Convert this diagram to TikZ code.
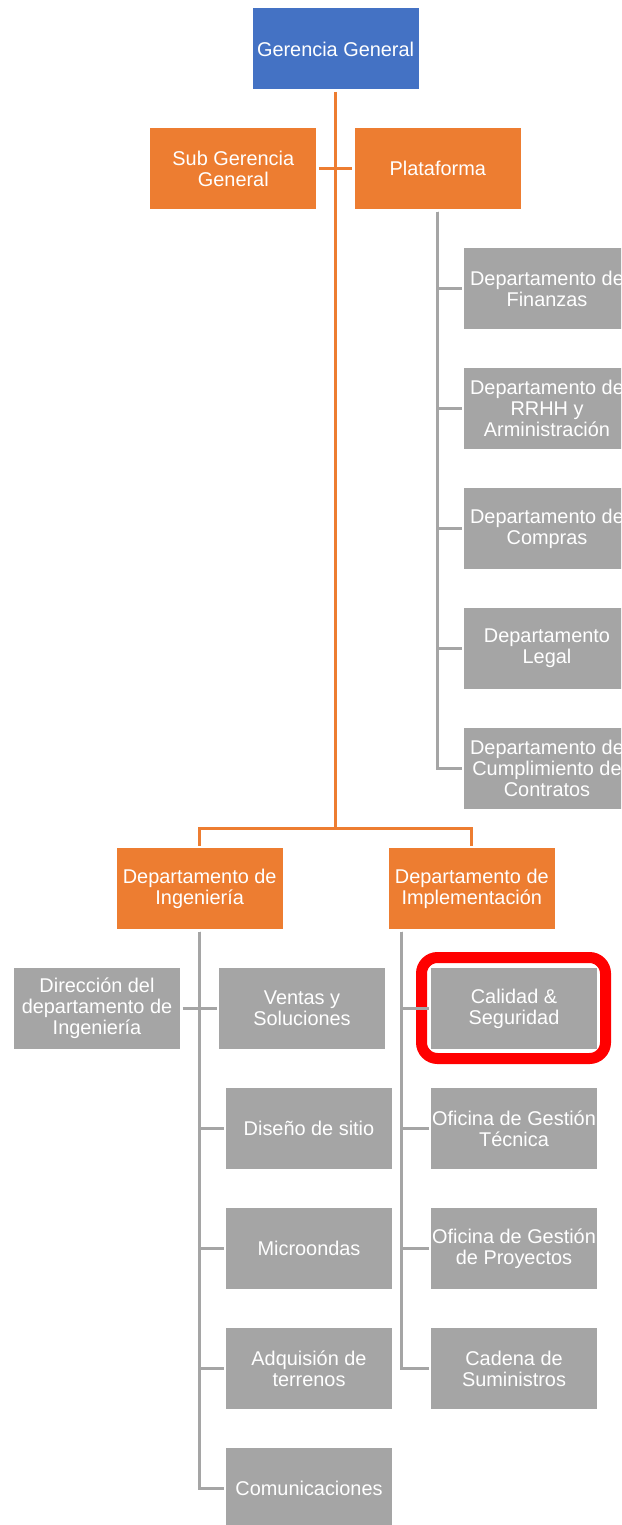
\documentclass[tikz,border=0pt]{standalone}
\usepackage{fontspec}
\setmainfont{Liberation Sans}
\definecolor{cblue}{HTML}{4472C4}
\definecolor{corange}{HTML}{ED7D31}
\definecolor{cgray}{HTML}{A5A5A5}
\definecolor{cred}{HTML}{FF0000}
\tikzset{
  box/.style={minimum width=166pt, minimum height=81pt, inner sep=0pt, outer sep=2.5pt,
    align=center, text=white, font=\fontsize{19.9}{21}\selectfont},
  bluebox/.style={box, fill=cblue},
  orangebox/.style={box, fill=corange},
  graybox/.style={box, fill=cgray},
  oline/.style={draw=corange, line width=3pt},
  gline/.style={draw=cgray, line width=3pt},
  hilite/.style={draw=cred, line width=11pt, rounded corners=16pt}
}
\begin{document}
\begin{tikzpicture}[x=1pt,y=-1pt]
\useasboundingbox (0,0) rectangle (621,1525);
\clip (0,0) rectangle (621,1525);
\fill[white] (0,0) rectangle (621,1525);

\node[bluebox] (gg) at (335.6,49) {Gerencia General};
\node[orangebox] (sub) at (233.3,168.5) {Sub Gerencia\\General};
\node[orangebox] (plat) at (437.8,168.5) {Plataforma};

\node[graybox] (fin) at (547,288.5) {Departamento de\\Finanzas};
\node[graybox] (rrhh) at (547,408.5) {Departamento de\\RRHH y\\Arministración};
\node[graybox] (comp) at (547,528.5) {Departamento de\\Compras};
\node[graybox] (legal) at (547,648.5) {Departamento\\Legal};
\node[graybox] (cump) at (547,768.5) {Departamento de\\Cumplimiento de\\Contratos};

\node[orangebox] (ing) at (199.7,888.5) {Departamento de\\Ingeniería};
\node[orangebox] (imp) at (471.8,888.5) {Departamento de\\Implementación};

\node[graybox] (dir) at (97,1008.5) {Dirección del\\departamento de\\Ingeniería};
\node[graybox] (ventas) at (302,1008.5) {Ventas y\\Soluciones};
\node[graybox] (dis) at (309,1128.5) {Diseño de sitio};
\node[graybox] (micro) at (309,1248.5) {Microondas};
\node[graybox] (adq) at (309,1368.5) {Adquisión de\\terrenos};
\node[graybox] (comu) at (309,1488.5) {Comunicaciones};

\node[graybox] (cal) at (514,1008.5) {Calidad \&\\Seguridad};
\node[graybox] (ogt) at (514,1128.5) {Oficina de Gestión\\Técnica};
\node[graybox] (ogp) at (514,1248.5) {Oficina de Gestión\\de Proyectos};
\node[graybox] (cad) at (514,1368.5) {Cadena de\\Suministros};

\node[hilite, minimum width=184pt, minimum height=101pt, inner sep=0pt] (hl) at (513.5,1008) {};

% orange connectors
\coordinate (bus) at (335.6,828);
\draw[oline] (gg.south) -- (bus);
\draw[oline] (sub.east) -- (plat.west);
\draw[oline] (ing.north) |- (bus) -| (imp.north);

% gray connectors: Plataforma
\foreach \c in {fin,rrhh,comp,legal,cump}
  \draw[gline] (plat.south) |- (\c.west);

% Ingenieria
\draw[gline] (dir.east) -- (ventas.west);
\foreach \c in {dis,micro,adq,comu}
  \draw[gline] (ing.south) |- (\c.west);

% Implementacion
\coordinate (impt) at ([xshift=15.3pt]imp.south west);
\foreach \c in {cal,ogt,ogp,cad}
  \draw[gline] (impt) |- (\c.west);
\end{tikzpicture}
\end{document}
